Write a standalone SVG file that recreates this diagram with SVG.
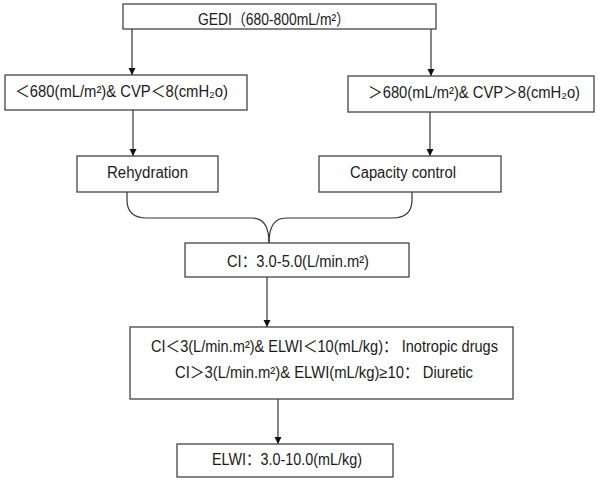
<svg xmlns="http://www.w3.org/2000/svg" width="600" height="483" viewBox="0 0 600 483">
<style>
.box{fill:#fff;stroke:#444;stroke-width:1.3}
.t{font-family:"Liberation Sans","DejaVu Sans","Noto Sans CJK SC",Arial,sans-serif;font-size:16px;fill:#1a1a1a;text-anchor:middle}
.c{fill:none;stroke:#333;stroke-width:1.2}
</style>
<defs>
<marker id="ah" markerWidth="8" markerHeight="8" refX="7" refY="4" orient="auto" markerUnits="userSpaceOnUse">
<path d="M0,0.5 L7,4 L0,7.5 Z" fill="#111"/>
</marker>
</defs>
<rect width="600" height="483" fill="#fff"/>
<g id="connectors">
<path class="c" d="M132,29 V75" marker-end="url(#ah)"/>
<path class="c" d="M431,29 V76" marker-end="url(#ah)"/>
<path class="c" d="M133,110 V156" marker-end="url(#ah)"/>
<path class="c" d="M430,112 V156" marker-end="url(#ah)"/>
<path class="c" d="M127,192 V200 Q127,218 147,218 H252 Q269,218 269,243"/>
<path class="c" d="M412,192 V200 Q412,218 392,218 H286 Q269,218 269,243"/>
<path class="c" d="M267,277 V327" marker-end="url(#ah)"/>
<path class="c" d="M278,399 V444" marker-end="url(#ah)"/>
</g>
<g id="gedi">
<rect class="box" x="123" y="4" width="313" height="25"/>
<text class="t" x="274" y="24.5" textLength="152" lengthAdjust="spacingAndGlyphs">GEDI（680-800mL/m²）</text>
</g>
<g id="low">
<rect class="box" x="5" y="75" width="242" height="35"/>
<text class="t" x="121.5" y="97" textLength="213" lengthAdjust="spacingAndGlyphs">＜680(mL/m²)&amp; CVP＜8(cmH₂o)</text>
</g>
<g id="high">
<rect class="box" x="348" y="76" width="246" height="36"/>
<text class="t" x="474" y="98" textLength="212" lengthAdjust="spacingAndGlyphs">＞680(mL/m²)&amp; CVP＞8(cmH₂o)</text>
</g>
<g id="rehydration">
<rect class="box" x="77" y="156" width="141" height="36"/>
<text class="t" x="147.5" y="178" textLength="81" lengthAdjust="spacingAndGlyphs">Rehydration</text>
</g>
<g id="capacity">
<rect class="box" x="319" y="156" width="182" height="36"/>
<text class="t" x="403" y="178" textLength="106" lengthAdjust="spacingAndGlyphs">Capacity control</text>
</g>
<g id="ci">
<rect class="box" x="185" y="243" width="224" height="34"/>
<text class="t" x="298" y="267" textLength="142" lengthAdjust="spacingAndGlyphs">CI：3.0-5.0(L/min.m²)</text>
</g>
<g id="therapy">
<rect class="box" x="130" y="327" width="383" height="72"/>
<text class="t" x="324.5" y="352" textLength="347" lengthAdjust="spacingAndGlyphs">CI＜3(L/min.m²)&amp; ELWI＜10(mL/kg)： Inotropic drugs</text>
<text class="t" x="324" y="378" textLength="298" lengthAdjust="spacingAndGlyphs">CI＞3(L/min.m²)&amp; ELWI(mL/kg)≥10： Diuretic</text>
</g>
<g id="elwi">
<rect class="box" x="177" y="444" width="216" height="33"/>
<text class="t" x="287" y="465" textLength="150" lengthAdjust="spacingAndGlyphs">ELWI：3.0-10.0(mL/kg)</text>
</g>
</svg>
